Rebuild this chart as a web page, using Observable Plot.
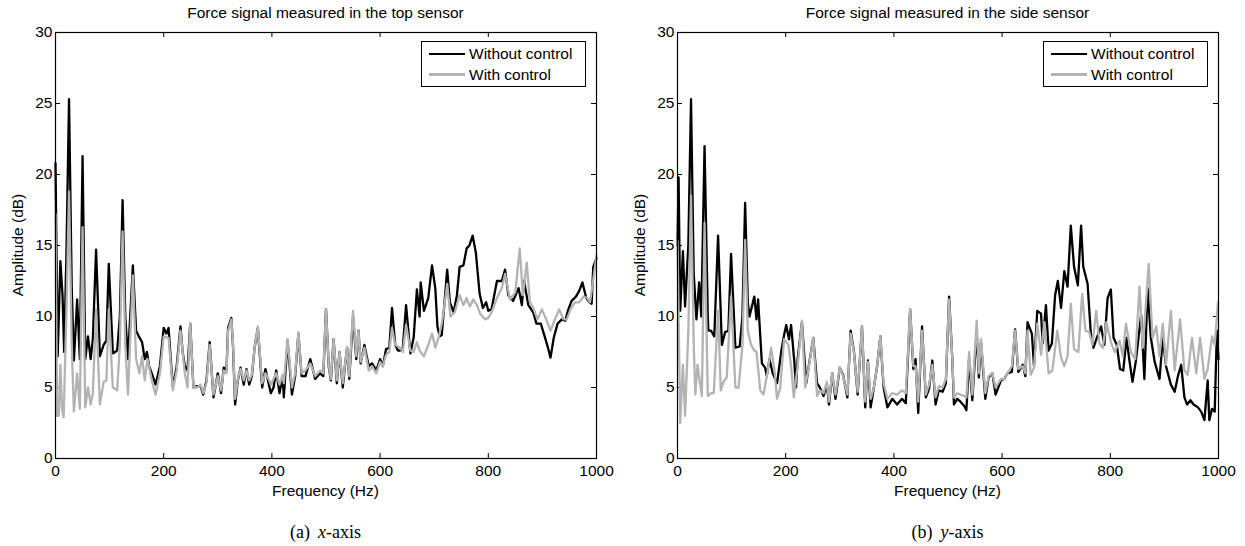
<!DOCTYPE html>
<html>
<head>
<meta charset="utf-8">
<script src="https://cdn.jsdelivr.net/npm/d3@7"></script>
<script src="https://cdn.jsdelivr.net/npm/@observablehq/plot@0.6"></script>
<style>
  html, body { margin: 0; padding: 0; background: #fff; }
  #root { position: relative; width: 1245px; height: 546px; overflow: hidden; background: #fff;
          font-family: "Liberation Sans", Arial, sans-serif; color: #000; }
  .panel { position: absolute; top: 0; }
  .title { position: absolute; font-size: 15.5px; white-space: nowrap; transform: translateX(-50%); }
  .xlabel { position: absolute; font-size: 15.5px; white-space: nowrap; transform: translateX(-50%); }
  .ylabel { position: absolute; font-size: 15.5px; white-space: nowrap; transform: translate(-50%, -50%) rotate(-90deg); }
  .caption { position: absolute; font-family: "Liberation Serif", "Times New Roman", serif; font-size: 18px; white-space: nowrap; transform: translateX(-50%); }
  .legend { position: absolute; border: 1px solid #000; background: #fff; font-size: 15.5px; }
  .legend .row { position: absolute; left: 0; height: 20px; display: flex; align-items: center; }
  .legend .sw { display: inline-block; width: 36px; height: 2.5px; margin-left: 7px; margin-right: 4px; }
</style>
</head>
<body>
<div id="root"></div>
<script>
// ---------------- Data ----------------
const xTicks = [0, 200, 400, 600, 800, 1000];
const yTicks = [0, 5, 10, 15, 20, 25, 30];
const seriesNames = ["Without control", "With control"];
const panelTitles = ["Force signal measured in the top sensor", "Force signal measured in the side sensor"];
const panelCaptions = ["(a) ", "(b) "];
const captionVars = ["x", "y"];
const xLabel = "Frequency (Hz)";
const yLabel = "Amplitude (dB)";

// Top sensor, without control
const topFreqWithout = [0,4,9,13,16,20,25,30,34,40,45,50,55,60,65,69,75,82,89,94,98.5,106,114,119,124,129,134,143,149,154,160,165,169,173,178,185,193,200,205,209,213,217,224,231,235,239,244,249,255,262,268,273,279,285,292,300,306,311,316,319,325,328,332,337,342,348,353,358,363,368,374,382,388,395,398,403,408,414,420,422,429,437,443,449,455,462,471,480,489,495,500,505,509,514,520,525,531,535,539,543,550,556,560,564,571,579,585,593,600,605,611,617,622,628,633,637,642,648,656,662,668,673,675,681,689,696,702,706,710,714,718,724,729,736,742,747,754,760,765,771,777,784,790,796,800,806,816,825,831,837,846,856,862,866,874,883,889,897,905,911,915,921,928,936,942,948,954,962,968,974,981,987,991,994,1000];
const topAmpWithout = [20.8,7.2,13.9,11.5,7.5,14,25.3,12,6.9,11.2,7.0,21.3,7.0,8.6,7.0,8.4,14.7,7.2,8.0,8.3,13.7,7.4,7.6,10,18.2,10,7.0,13.6,9,8.6,8.2,7.0,7.5,6.5,6.0,5.2,6.5,9.2,8.8,9.2,7,5.0,6.5,9.3,7.5,6.5,6.2,9.5,5.0,5.1,5.1,4.5,5.5,8.2,4.3,6.0,4.6,6.4,6.2,9.2,9.9,8,3.8,5.5,6.4,5.2,6.3,5.2,5.8,7.8,9.2,5.0,6.3,5.1,4.6,5.0,6.2,4.6,5.8,4.3,8.3,4.5,5.8,8.8,5.8,5.8,7.0,5.6,6.0,5.8,10.5,6.5,5.5,8.4,5.3,7.5,5.0,6.5,7.8,5.6,10.0,7.0,9.0,6.7,8.0,6.5,6.7,6.2,7.0,6.5,7.7,7.8,10.6,8.0,7.6,7.6,7.8,10.8,7.4,8.5,11.9,10.0,12.4,10.4,11.3,13.6,12.0,9.3,8.6,8.7,10.5,13.3,11.0,10.3,11.5,13.5,13.6,14.8,15.0,15.7,14.5,11.6,10.6,11.0,10.4,10.5,12.5,12.5,13.3,11.5,11.1,12.0,10.8,12.5,10.8,10.3,9.5,9.5,8.5,7.7,7.1,8.5,9.5,9.8,9.7,10.5,11.1,11.4,11.8,12.4,11.3,11.0,10.9,13.5,14.1];

// Top sensor, with control
const topFreqWith = [0,3,6,9,12,15,20,25,30,34,40,45,50,55,60,65,69,75,82,89,94,98.5,106,114,119,124,129,134,143,149,155,160,165,170,178,185,193,200,209,217,224,231,239,244,249,255,262,268,273,279,285,292,300,306,311,316,319,325,328,332,337,342,348,353,358,363,368,374,382,388,395,398,403,408,414,420,422,429,437,443,449,455,462,471,480,489,495,500,505,509,514,520,525,531,535,539,543,550,556,560,564,571,579,585,593,600,605,611,617,622,628,637,642,648,656,662,668,673,681,689,696,702,708,714,718,724,730,738,747,754,760,766,772,779,785,794,800,806,816,825,831,840,850,858,864,871,877,883,891,899,907,915,923,931,939,945,952,960,968,976,983,988,994,1000];
const topAmpWith = [17.2,3.0,3.0,6.6,3.5,2.9,10,18.8,8,3.3,6.0,3.5,16.3,3.6,5.0,3.8,4.6,10.5,3.8,5.4,5.5,10.5,5.0,4.8,8,16.0,8,4.5,12.9,7.0,6.0,7.2,5.5,7,5.5,4.5,6,8.6,8.5,4.8,6.2,9.0,6.0,5.0,9.5,5.0,5.0,5.2,4.6,5.3,8.0,4.5,5.8,4.8,6.2,6.0,9.0,9.8,8.2,4.2,5.6,6.3,5.5,6.2,5.5,5.9,7.8,9.3,5.3,6.0,5.5,5.2,5.6,6.0,5.2,5.9,5.3,8.4,5.0,6.0,8.9,6.0,6.2,6.7,5.8,6.2,6.0,10.5,6.6,5.6,8.4,5.5,7.5,5.3,6.6,7.8,5.8,10.4,7.2,9.0,6.8,7.8,6.2,6.5,6.0,6.8,6.5,7.3,7.5,9.2,8.0,7.8,7.5,9.4,7.6,7.5,8.2,7.6,7.2,8.0,8.8,7.8,8.5,9.5,10.5,12.3,10.0,10.3,11.5,10.8,11.3,10.7,11.2,10.8,10.2,9.8,9.9,10.3,11.3,12.0,13.0,11.2,11.7,14.8,11.5,13.8,11.0,10.6,9.8,10.5,9.8,9.0,9.8,10.5,9.8,9.8,10.5,11.0,11.0,11.4,11.3,11.0,12.6,14.3];

// Side sensor, without control
const sideFreqWithout = [0,2,5,10,14,20,25,30,35,40,44,50,56,57,62,68,75,82,88,94,99,107,115,120,125,130,133,142,146,149,156,162,165,170,176,184,192,197,201,206,210,216,219,222,230,238,243,251,258,263,270,276,280,286,292,300,306,314,320,326,333,341,347,352,357,363,369,375,381,388,397,406,415,422,430,436,440,445,452,459,465,471,477,483,490,496,502,508,511,517,523,530,534,539,545,553,557,561,569,575,582,588,598,604,610,618,624,630,638,643,647,655,659,665,672,675,681,686,692,698,703,709,715,721,727,733,740,746,750,758,764,769,775,783,789,795,801,806,812,818,824,830,835,841,847,857,863,869,875,882,891,897,903,912,919,925,931,937,942,948,954,962,968,974,980,983,988,993,997,1000];
const sideAmpWithout = [15,19.8,10.4,14.6,10.7,15,25.3,13,9.8,12.4,10.0,22.0,10,9.0,9.0,8.6,15.7,8.0,8.9,9.0,14.4,7.8,7.9,10,18.0,11,10.0,11.4,9.8,11.2,6.7,6.4,5.8,7.0,6,5.3,7.6,8.7,9.4,8.4,9.4,6.8,5.0,7.0,9.6,5.3,6.6,8.5,5.3,5.0,4.4,5.2,3.8,6.0,4.2,6.4,5.9,4.3,9.0,7.6,4.5,9.3,3.6,6.9,3.6,5.0,6.5,8.6,5.0,3.6,4.2,3.8,4.2,3.9,10.5,6.3,7.0,3.2,9.3,4.3,4.9,6.9,3.8,4.8,4.7,5.3,11.4,7.0,3.8,4.2,4.0,3.7,3.4,7.0,4.1,9.0,5.7,8.2,4.2,5.7,6.0,4.5,5.5,5.6,6.0,6.1,9.1,6.1,6.6,5.8,9.6,8.8,6.5,10.4,10.2,8.1,10.8,7.6,8.1,11.5,12.5,10.6,13.2,12.1,16.4,13.5,12.2,16.4,13.5,12.3,8.8,7.8,8.5,9.3,8.0,11.3,11.9,8.5,8.0,6.3,6.2,8.5,7.0,5.4,6.8,10.1,5.6,12.0,8.5,6.8,5.6,8.5,6.5,5.2,4.7,5.8,6.6,4.3,3.8,4.1,3.8,3.6,3.3,2.7,5.5,2.7,3.5,3.3,9.0,7.0];

// Side sensor, with control
const sideFreqWith = [0,5,10,14,20,25,30,33,37,45,50,56,62,67,75,80,85,91,99,107,113,120,125,130,136,142,146,153,159,166,173,179,184,190,197,205,210,215,222,230,236,243,251,258,263,270,276,280,286,292,300,306,314,320,326,333,341,347,352,357,363,369,375,381,388,397,406,415,422,430,436,440,445,452,459,465,471,477,483,490,496,502,508,511,517,523,530,534,539,545,553,557,561,569,575,582,588,598,604,610,618,624,630,638,643,647,653,659,665,672,678,686,693,702,709,715,721,727,733,741,748,754,761,767,774,780,786,793,801,808,817,823,829,838,846,854,860,871,878,885,891,897,903,912,919,929,937,943,951,959,966,974,980,988,993,999];
const sideAmpWith = [15.3,2.5,6.6,3.0,9,18.5,8,4.5,6.6,4.4,16.6,4.4,4.6,4.6,10.4,4.8,5.4,5.7,11.4,5.0,5.0,8,15.4,9,8.0,7.6,7.5,4.8,4.5,6,7.8,6.3,4.2,5.0,8.4,8.0,6.5,4.3,6.5,9.7,5.0,6.5,8.5,4.4,4.8,4.6,5.4,4.0,6.0,4.5,6.4,5.8,4.5,8.8,7.5,4.7,9.3,4.0,6.8,4.2,5.0,6.5,8.6,5.3,4.2,4.6,4.5,4.8,4.6,10.5,6.5,6.5,4.0,9.0,4.5,5.2,6.6,4.3,5.1,5.0,5.6,11.2,7.0,4.3,4.6,4.5,4.4,4.3,7.5,4.5,9.7,6.0,8.4,4.6,5.8,6.0,5.0,5.6,5.6,6.0,6.5,9.0,6.3,6.5,6.0,9.0,5.9,6.4,9.5,7.3,9.6,6.0,6.2,9.0,7.1,6.5,7.2,10.9,7.7,7.5,11.6,9.0,8.9,8.0,10.4,8.1,7.8,9.6,8.2,7.5,8.3,7.2,9.5,7.5,7.0,12.1,7.8,13.7,8.5,9.3,7.2,9.5,6.6,10.4,6.2,9.8,6.2,5.9,8.5,6.0,8.5,5.6,6.3,8.6,8.0,11.0];

// ---------------- Layout / drawing ----------------
const toRows = (fs, as) => fs.map((f, i) => ({f, a: as[i]}));
const BLACK = "#000000", GRAY = "#b3b3b3";

const panels = [
  {left: 0, width: 622, mL: 55, mR: 26, without: toRows(topFreqWithout, topAmpWithout), with: toRows(topFreqWith, topAmpWith)},
  {left: 622, width: 623, mL: 55, mR: 27, without: toRows(sideFreqWithout, sideAmpWithout), with: toRows(sideFreqWith, sideAmpWith)}
];

const root = document.getElementById("root");
const H = 500, mT = 32, mB = 42;

panels.forEach((p, k) => {
  const tickLenX = 5 / ((p.width - p.mL - p.mR) / 1000);
  const tickLenY = 5 / ((H - mT - mB) / 30);
  const chart = Plot.plot({
    width: p.width, height: H,
    marginLeft: p.mL, marginRight: p.mR, marginTop: mT, marginBottom: mB,
    x: {domain: [0, 1000], label: null},
    y: {domain: [0, 30], label: null},
    style: {fontFamily: '"Liberation Sans", Arial, sans-serif', fontSize: "15.5px", color: "#000", background: "transparent", overflow: "visible"},
    marks: [
      Plot.axisX(xTicks, {anchor: "bottom", tickSize: 0, tickPadding: 6, label: null, tickFormat: d => String(d)}),
      Plot.axisY(yTicks, {anchor: "left", tickSize: 0, tickPadding: 3, label: null, tickFormat: d => String(d)}),
      Plot.ruleX(xTicks.slice(1, -1), {y1: 0, y2: tickLenY, stroke: "#000", strokeWidth: 1}),
      Plot.ruleX(xTicks.slice(1, -1), {y1: 30, y2: 30 - tickLenY, stroke: "#000", strokeWidth: 1}),
      Plot.ruleY(yTicks.slice(1, -1), {x1: 0, x2: tickLenX, stroke: "#000", strokeWidth: 1}),
      Plot.ruleY(yTicks.slice(1, -1), {x1: 1000, x2: 1000 - tickLenX, stroke: "#000", strokeWidth: 1}),
      Plot.line(p.without, {x: "f", y: "a", stroke: BLACK, strokeWidth: 2.3, strokeLinejoin: "round"}),
      Plot.line(p.with, {x: "f", y: "a", stroke: GRAY, strokeWidth: 2.3, strokeLinejoin: "round"}),
      Plot.frame({stroke: "#000", strokeWidth: 1.2})
    ]
  });
  const wrap = document.createElement("div");
  wrap.className = "panel";
  wrap.style.left = p.left + "px";
  wrap.appendChild(chart);
  root.appendChild(wrap);

  const cx = p.left + p.mL + (p.width - p.mL - p.mR) / 2;
  const plotRight = p.left + p.width - p.mR;

  const t = document.createElement("div");
  t.className = "title"; t.style.left = cx + "px"; t.style.top = "4px"; t.textContent = panelTitles[k];
  root.appendChild(t);

  const xl = document.createElement("div");
  xl.className = "xlabel"; xl.style.left = cx + "px"; xl.style.top = "482px"; xl.textContent = xLabel;
  root.appendChild(xl);

  const yl = document.createElement("div");
  yl.className = "ylabel"; yl.style.left = (p.left + 18) + "px"; yl.style.top = "245px"; yl.textContent = yLabel;
  root.appendChild(yl);

  const cap = document.createElement("div");
  cap.className = "caption"; cap.style.left = cx + "px"; cap.style.top = "522px";
  cap.append(panelCaptions[k]);
  const it = document.createElement("i"); it.textContent = captionVars[k];
  cap.appendChild(document.createTextNode("\u2009")); cap.appendChild(it); cap.append("-axis");
  root.appendChild(cap);

  const lg = document.createElement("div");
  lg.className = "legend";
  const lgW = 163, lgH = 44;
  lg.style.left = (plotRight - 12 - lgW) + "px"; lg.style.top = "41px";
  lg.style.width = lgW + "px"; lg.style.height = lgH + "px";
  [BLACK, GRAY].forEach((c, j) => {
    const row = document.createElement("div");
    row.className = "row"; row.style.top = (2 + j * 20.5) + "px";
    const sw = document.createElement("span"); sw.className = "sw"; sw.style.background = c;
    const tx = document.createElement("span"); tx.textContent = seriesNames[j];
    row.appendChild(sw); row.appendChild(tx);
    lg.appendChild(row);
  });
  root.appendChild(lg);
});
</script>
</body>
</html>
